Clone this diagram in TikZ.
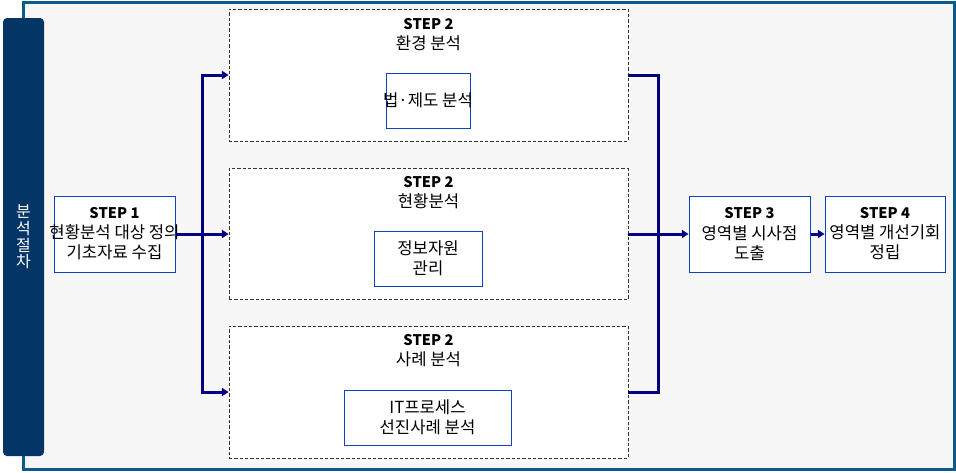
\documentclass[tikz,border=0pt]{standalone}
\usepackage{fontspec}
\setmainfont{Noto Sans CJK KR}
\usetikzlibrary{arrows.meta}
\definecolor{framecol}{RGB}{10,90,140}
\definecolor{bggray}{RGB}{247,247,247}
\definecolor{barnavy}{RGB}{3,53,102}
\definecolor{boxblue}{RGB}{16,64,200}
\definecolor{flownavy}{RGB}{0,0,128}
\newcommand\steplabel[1]{{\fontsize{11}{15}\selectfont\bfseries #1}}
\tikzset{
  every node/.style={font=\fontsize{12.5}{15}\selectfont},
  stepbox/.style={draw=boxblue,fill=white,line width=0.75pt,minimum width=90.75pt,
    minimum height=57pt,align=center,inner sep=0pt},
  groupbox/.style={draw=black!80,fill=white,line width=0.6pt,dash pattern=on 2.5pt off 1.5pt,
    minimum width=299.25pt,minimum height=99pt},
  subbox/.style={draw=boxblue,fill=white,line width=0.75pt,minimum height=41.25pt,align=center,inner sep=0pt},
  grouptitle/.style={align=center,inner sep=0pt},
  sidebar/.style={fill=barnavy,rounded corners=3pt,minimum width=30.75pt,minimum height=328.5pt,
    text=white,align=center,inner sep=0pt,font=\fontsize{12}{12.5}\selectfont},
  flow/.style={draw=flownavy,line width=2.25pt},
  flowarrow/.style={flow,-{Triangle[length=5pt,width=6pt]}}
}
\begin{document}
\begin{tikzpicture}[x=0.75pt,y=-0.75pt]
\useasboundingbox (0,0) rectangle (956,472);
\draw[framecol,line width=2.25pt,fill=bggray] (23,2) rectangle (954,469);

\node[sidebar] (side) at (23.5,237) {분\\석\\절\\차};

\node[stepbox,inner xsep=-8pt] (s1) at (114.5,234) {\steplabel{STEP 1}\\현황분석 대상 정의\\기초자료 수집};

\node[groupbox] (a) at (428.5,75) {};
\node[groupbox,minimum height=98.25pt] (b) at (428.5,234) {};
\node[groupbox] (c) at (428.5,392) {};

\node[grouptitle] (at) at (428.5,35) {\steplabel{STEP 2}\\환경 분석};
\node[grouptitle] (bt) at (428.5,193) {\steplabel{STEP 2}\\현황분석};
\node[grouptitle] (ct) at (428.5,351) {\steplabel{STEP 2}\\사례 분석};

\node[subbox,minimum width=63pt,inner xsep=-3pt] (ai) at (428,100.5) {법·제도 분석};
\node[subbox,minimum width=81pt] (bi) at (428,258.5) {정보자원\\관리};
\node[subbox,minimum width=125.25pt] (ci) at (427.5,417.5) {IT프로세스\\선진사례 분석};

\node[stepbox] (s3) at (749.5,234) {\steplabel{STEP 3}\\영역별 시사점\\도출};
\node[stepbox,minimum width=90pt] (s4) at (885,234) {\steplabel{STEP 4}\\영역별 개선기회\\정립};

\coordinate (jl) at (202,234);
\coordinate (jr) at (658,234);
\draw[flowarrow] (s1.east) -- (b.west);
\draw[flowarrow] (jl) |- (a.west);
\draw[flowarrow] (jl) |- (c.west);
\draw[flow] (a.east) -| (jr);
\draw[flow] (c.east) -| (jr);
\draw[flowarrow] (b.east) -- (s3.west);
\draw[flowarrow] (s3.east) -- (s4.west);
\end{tikzpicture}
\end{document}
